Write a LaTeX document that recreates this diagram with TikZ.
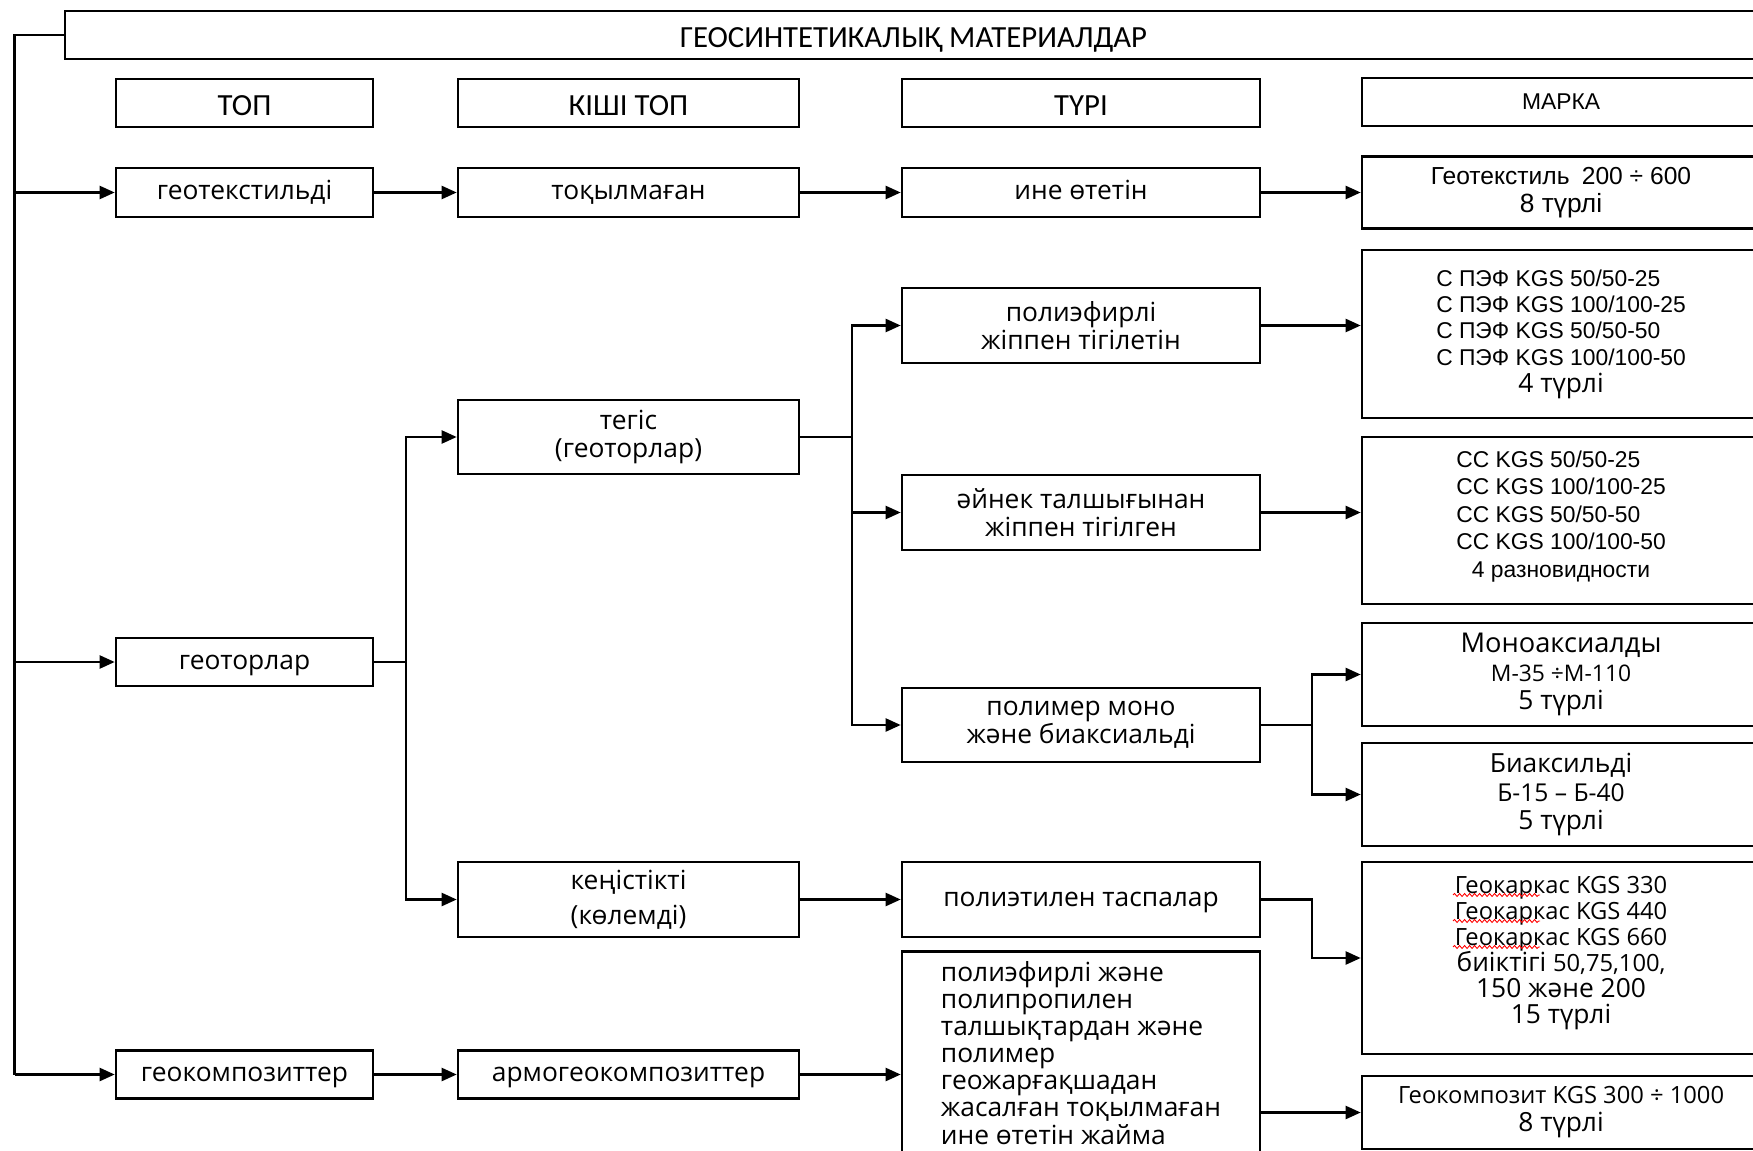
\documentclass[tikz,border=0pt]{standalone}
\usepackage{fontspec}
\setmainfont{Open Sans}
\newfontfamily\calfont{Carlito}
\newfontfamily\arfont{Liberation Sans}
\usetikzlibrary{arrows.meta, decorations.pathmorphing}
\newcommand{\mk}{\arfont\fontsize{13}{15}\selectfont}
\newcommand{\bg}{\rmfamily\fontsize{15}{16}\selectfont}

\begin{document}
\begin{tikzpicture}[x=0.02cm, y=-0.02cm,
    box/.style = {draw, line width=1.5pt, inner sep=0pt, align=center, font=\fontsize{15}{16}\selectfont},
    sz/.style 2 args = {minimum width=#1*0.02cm, minimum height=#2*0.02cm},
    one/.style = {text height=11pt, text depth=3pt},
    hd/.style = {font=\calfont\fontsize{17.5}{20}\selectfont, text height=14pt, text depth=0pt},
    ln/.style = {line width=1.3pt},
    arr/.style = {ln, -{Triangle[length=3mm, width=2.6mm]}},
    wavy/.style = {red, line width=0.5pt, decorate, decoration={snake, amplitude=0.3mm, segment length=1mm}}]
    \useasboundingbox (0,0) rectangle (1753,1151);

    % title and headers
    \node[box, sz={1697}{48}, hd](0) at (913.5,35){ГЕОСИНТЕТИКАЛЫҚ МАТЕРИАЛДАР};
    \node[box, sz={257}{48}, hd](h1) at (244.5,103){ТОП};
    \node[box, sz={341}{48}, hd](h2) at (628.5,103){КІШІ ТОП};
    \node[box, sz={358}{48}, hd](h3) at (1081,103){ТҮРІ};
    \node[box, sz={398}{48}, font=\mk](h4) at (1561,102){МАРКА};

    % top
    \node[box, sz={257}{49}, one](a1) at (244.5,192.5){геотекстильді};
    \node[box, sz={257}{48}, one](a2) at (244.5,662){геоторлар};
    \node[box, sz={257}{48}, one](a3) at (244.5,1074.5){геокомпозиттер};

    % kishi top
    \node[box, sz={341}{49}, one](b1) at (628.5,192.5){тоқылмаған};
    \node[box, sz={341}{74}](b2) at (628.5,437){тегіс\\(геоторлар)};
    \node[box, sz={341}{75}](b3) at (628.5,899.5){кеңістікті\\[4pt](көлемді)};
    \node[box, sz={341}{48}, one](b4) at (628.5,1074.5){армогеокомпозиттер};

    % turi
    \node[box, sz={358}{49}, one](c1) at (1081,192.5){ине өтетін};
    \node[box, sz={358}{75}](c2) at (1081,325.5){полиэфирлі\\жіппен тігілетін};
    \node[box, sz={358}{75}](c3) at (1081,512.5){әйнек талшығынан\\жіппен тігілген};
    \node[box, sz={358}{74}](c4) at (1081,725){полимер моно\\және биаксиальді};
    \node[box, sz={358}{75}, one](c5) at (1081,899.5){полиэтилен таспалар};
    \node[box, sz={358}{196}, font=\fontsize{15}{15.4}\selectfont](c6) at (1081,1052){\begin{tabular}{@{}l@{}}
        \rule{0pt}{17pt}полиэфирлі және\\полипропилен\\талшықтардан және\\полимер\\геожарғақшадан\\жасалған тоқылмаған\\ине өтетін жайма
      \end{tabular}};

    % marka
    \node[box, sz={398}{72}](d1) at (1561,192.5){{\arfont\fontsize{14}{15}\selectfont Геотекстиль\enspace 200 ÷ 600}\\{\arfont 8 түрлі}};
    \node[box, sz={398}{168}, font=\mk](d2) at (1561,334){\begin{tabular}{@{}l@{}}
        С ПЭФ KGS 50/50-25\\С ПЭФ KGS 100/100-25\\С ПЭФ KGS 50/50-50\\С ПЭФ KGS 100/100-50\\
        \multicolumn{1}{@{}c@{}}{\bg 4 түрлі}
      \end{tabular}};
    \node[box, sz={398}{167}, font=\arfont\fontsize{13}{15.6}\selectfont](d3) at (1561,520.5){\begin{tabular}{@{}l@{}}
        СС KGS 50/50-25\\СС KGS 100/100-25\\СС KGS 50/50-50\\СС KGS 100/100-50\\
        \multicolumn{1}{@{}c@{}}{4 разновидности\rule[-9pt]{0pt}{0pt}}
      \end{tabular}};
    \node[box, sz={398}{103}](d4) at (1561,674.5){{\fontsize{15.5}{16}\selectfont Моноаксиалды}\\{\fontsize{13}{15}\selectfont М-35 ÷М-110}\\5 түрлі};
    \node[box, sz={398}{103}](d5) at (1561,794.5){Биаксильді\\{\fontsize{14}{15}\selectfont Б-15 – Б-40}\\5 түрлі};
    \node[box, sz={398}{192}, font=\fontsize{15}{14.8}\selectfont](d6) at (1561,958){{\fontsize{13.5}{15}\selectfont Геокаркас KGS 330}\\
        {\fontsize{13.5}{15}\selectfont Геокаркас KGS 440}\\
        {\fontsize{13.5}{15}\selectfont Геокаркас KGS 660}\\
        биіктігі {\fontsize{13.5}{15}\selectfont 50,75,100,}\\150 және 200\\15 түрлі\rule[-9pt]{0pt}{0pt}};
    \node[box, sz={398}{73}](d7) at (1561,1112.5){{\fontsize{13.5}{15}\selectfont Геокомпозит KGS 300 ÷ 1000}\\8 түрлі};
    \foreach \y in {895,921,947}
      \draw[wavy] (1453,\y) -- (1540,\y);

    % connectors
    \coordinate(k0) at (14.5,35);
    \coordinate(k1) at (406,662);
    \coordinate(k2) at (852,437);
    \coordinate(k3) at (1312,725);
    \coordinate(k4) at (1312,899.5);
    \draw[ln] (0) -- (k0) -- (k0 |- a3);
    \draw[arr] (k0 |- a1) -- (a1);
    \draw[arr] (k0 |- a2) -- (a2);
    \draw[arr] (k0 |- a3) -- (a3);
    \draw[arr] (a1) -- (b1);
    \draw[arr] (b1) -- (c1);
    \draw[arr] (c1) -- (c1 -| d1.west);
    \draw[ln] (a2) -- (k1);
    \draw[arr] (k1) |- (b2);
    \draw[arr] (k1) |- (b3);
    \draw[ln] (b2) -- (k2);
    \draw[arr] (k2) |- (c2);
    \draw[arr] (k2) |- (c3);
    \draw[arr] (k2) |- (c4);
    \draw[arr] (c2) -- (c2 -| d2.west);
    \draw[arr] (c3) -- (c3 -| d3.west);
    \draw[ln] (c4) -- (k3);
    \draw[arr] (k3) |- (d4);
    \draw[arr] (k3) |- (d5);
    \draw[arr] (b3) -- (c5);
    \draw[arr] (c5) -- (k4) |- (d6);
    \draw[arr] (a3) -- (b4);
    \draw[arr] (b4) -- (b4 -| c6.west);
    \draw[arr] (d7 -| c6.east) -- (d7);
\end{tikzpicture}
\end{document}
